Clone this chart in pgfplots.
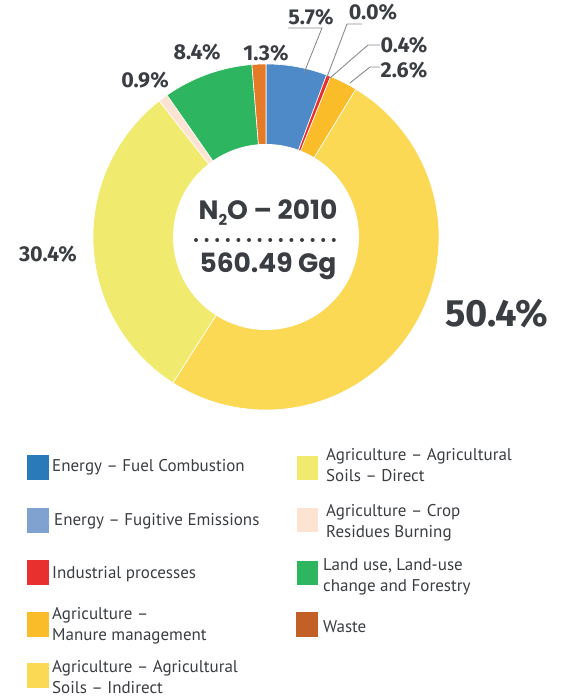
\documentclass[border=0pt]{standalone}
\usepackage{fontspec}
\setmainfont{Fira Sans}
\newfontfamily\legfont{PT Sans}
\newfontfamily\ctrfont{Poppins}
\usepackage{pgfplots}
\pgfplotsset{compat=1.18}
\definecolor{cFuel}{HTML}{4E8AC8}
\definecolor{cFug}{HTML}{7FA2D1}
\definecolor{cInd}{HTML}{E8302F}
\definecolor{cMan}{HTML}{FBBC2A}
\definecolor{cIndir}{HTML}{FBD955}
\definecolor{cDir}{HTML}{F0EB6E}
\definecolor{cCrop}{HTML}{FCE3D2}
\definecolor{cLand}{HTML}{2DB55F}
\definecolor{cWaste}{HTML}{E57A27}
\definecolor{lFuel}{HTML}{2A7AB9}
\definecolor{lWaste}{HTML}{C26026}
\definecolor{txt}{HTML}{3A3D42}
\definecolor{lead}{HTML}{8C8C8C}
\newcommand\curang{90}
\newcommand\slice[2]{%
  \pgfmathsetmacro\sa{\curang}%
  \pgfmathsetmacro\sb{\curang-3.6*#1/1.001}%
  \ifdim #1pt>0pt
    \edef\tmp{\noexpand\addplot[fill=#2, draw=white, line width=0.6pt, domain=\sb:\sa, samples=80, variable=\noexpand\t] ({266+173*cos(\noexpand\t)},{461+173*sin(\noexpand\t)}) -- (axis cs:266,461) -- cycle;}%
    \tmp
  \fi
  \global\let\curang\sb}
\begin{document}
\begin{tikzpicture}
\useasboundingbox (0,0) rectangle (578pt,698pt);
\begin{axis}[
  scale only axis, width=578pt, height=698pt,
  xmin=0, xmax=578, ymin=0, ymax=698,
  hide axis, clip=false, anchor=south west, at={(0,0)}]
% shares in percent (clockwise from top)
\slice{5.7}{cFuel}
\slice{0.0}{cFug}
\slice{0.4}{cInd}
\slice{2.6}{cMan}
\slice{50.4}{cIndir}
\slice{30.4}{cDir}
\slice{0.9}{cCrop}
\slice{8.4}{cLand}
\slice{1.3}{cWaste}
\addplot[fill=white, draw=none, domain=0:360, samples=120] ({266+93*cos(x)},{461+93*sin(x)}) -- cycle;
% leader lines
\draw[lead, line width=0.9pt] (axis cs:304,625) -- (axis cs:322,670) -- (axis cs:288,670);
\draw[lead, line width=0.9pt] (axis cs:327,621) -- (axis cs:347,674) -- (axis cs:362,674);
\draw[lead, line width=0.9pt] (axis cs:330,620) -- (axis cs:368,653) -- (axis cs:380,653);
\draw[lead, line width=0.9pt] (axis cs:350,615) -- (axis cs:370,631) -- (axis cs:380,631);
% labels
\tikzset{pl/.style={font=\fontsize{21.5}{24}\selectfont\bfseries, text=txt, inner sep=0pt}}
\node[pl] at (axis cs:311,681) {5.7\%};
\node[pl] at (axis cs:373,686) {0.0\%};
\node[pl] at (axis cs:404,653) {0.4\%};
\node[pl] at (axis cs:404,628) {2.6\%};
\node[pl] at (axis cs:266,645) {1.3\%};
\node[pl] at (axis cs:197,646) {8.4\%};
\node[pl] at (axis cs:145,618) {0.9\%};
\node[pl] at (axis cs:48,444) {30.4\%};
\node[font=\fontsize{38}{42}\selectfont\bfseries, text=txt, inner sep=0pt] at (axis cs:497,384) {50.4\%};
% centre text
\node[font=\ctrfont\fontsize{26.5}{30}\selectfont\bfseries, text=txt, inner sep=0pt] at (axis cs:268,485) {N\raisebox{-0.4ex}{\fontsize{15}{16}\selectfont 2}O – 2010};
\node[font=\ctrfont\fontsize{26.5}{30}\selectfont\bfseries, text=txt, inner sep=0pt] at (axis cs:268,432) {560.49 Gg};
\draw[txt, line width=4pt, line cap=round, dash pattern=on 0pt off 10.6pt] (axis cs:196,458) -- (axis cs:342,458);
% legend
\tikzset{lt/.style={font=\legfont\fontsize{17}{21}\selectfont, text=txt, anchor=west, align=left, inner sep=0pt}}
\fill[lFuel] (axis cs:27,243) rectangle (axis cs:49,218);
\node[lt] at (axis cs:52,231) {Energy – Fuel Combustion};
\fill[cFug] (axis cs:27,190) rectangle (axis cs:49,165);
\node[lt] at (axis cs:54,177) {Energy – Fugitive Emissions};
\fill[cInd] (axis cs:27,138) rectangle (axis cs:49,113);
\node[lt] at (axis cs:52,124) {Industrial processes};
\fill[cMan] (axis cs:27,86) rectangle (axis cs:49,61);
\node[lt] at (axis cs:52,72) {Agriculture –\\Manure management};
\fill[cIndir] (axis cs:27,35) rectangle (axis cs:49,10);
\node[lt] at (axis cs:52,21) {Agriculture – Agricultural\\Soils – Indirect};
\fill[cDir] (axis cs:297,242) rectangle (axis cs:318,218);
\node[lt] at (axis cs:326,233) {Agriculture – Agricultural\\Soils – Direct};
\fill[cCrop] (axis cs:297,190) rectangle (axis cs:318,166);
\node[lt] at (axis cs:326,175) {Agriculture – Crop\\Residues Burning};
\fill[cLand] (axis cs:297,137) rectangle (axis cs:318,113);
\node[lt] at (axis cs:323,121) {Land use, Land-use\\change and Forestry};
\fill[lWaste] (axis cs:296,86) rectangle (axis cs:318,61);
\node[lt] at (axis cs:323,71) {Waste};
\end{axis}
\end{tikzpicture}
\end{document}
